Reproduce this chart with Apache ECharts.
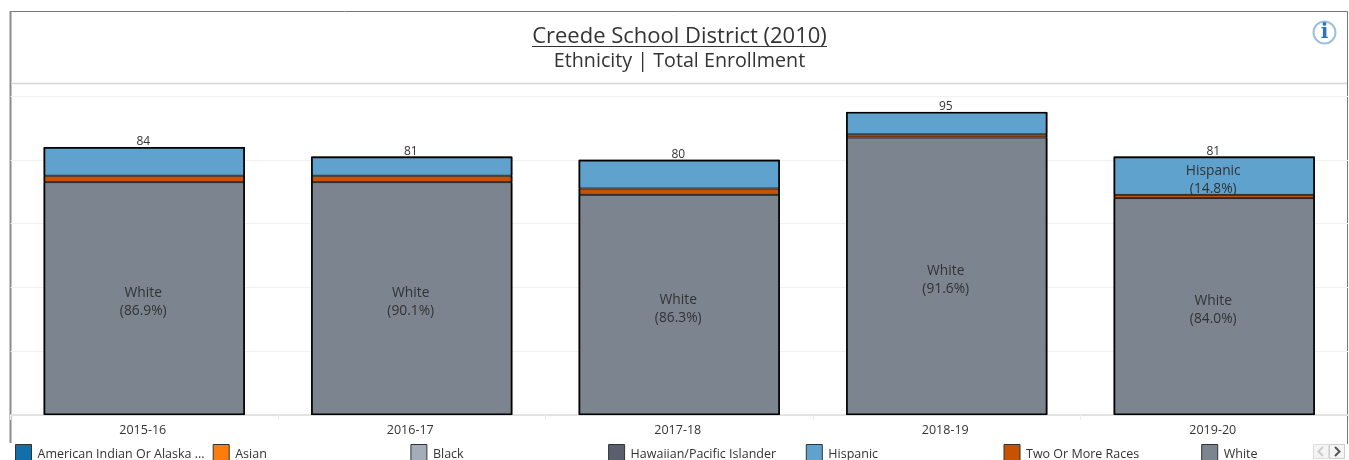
<!DOCTYPE html>
<html>
<head>
<meta charset="utf-8">
<style>html,body{margin:0;padding:0;background:#fff}#chart{width:1349px;height:460px}</style>
<script src="https://cdn.jsdelivr.net/npm/echarts@6/dist/echarts.min.js"></script>
</head>
<body>
<div id="chart"></div>
<script>
// Enrollment counts by school year
const years = ['2015-16', '2016-17', '2017-18', '2018-19', '2019-20'];
const white = [73, 73, 69, 87, 68];
const twoOrMore = [2, 2, 2, 1, 1];
const hispanic = [9, 6, 9, 7, 12];
const totals = [84, 81, 80, 95, 81];
const noStudents = [null, null, null, null, null];
const yTicks = { min: 0, max: 100, step: 20 };

const legendNames = ['American Indian Or Alaska ...', 'Asian', 'Black', 'Hawaiian/Pacific Islander', 'Hispanic', 'Two Or More Races', 'White'];
const swatches = ['#1170aa', '#fc7d0b', '#a3acb9', '#57606c', '#5fa2ce', '#c85200', '#7b848f'];

const FONT = '"Open Sans", "Noto Sans", sans-serif';
const INK = '#333';
const BAR_WIDTH = '75.2%';
const LEGEND_LEFT = 15;
const LEGEND_PITCH = 197.7;

function percent(values, i) {
  return (values[i] / totals[i] * 100).toFixed(1) + '%';
}

function segment(name, data, color, label) {
  return {
    name, type: 'bar', stack: 'enrollment', data,
    barWidth: BAR_WIDTH,
    itemStyle: { color, borderColor: '#1a1a1a', borderWidth: 0.9 },
    label: label || { show: false }
  };
}

const stackOrder = [
  segment('White', white, swatches[6], {
    show: true, position: 'inside', color: INK, fontFamily: FONT, fontSize: 13.8, lineHeight: 18, offset: [-1, 4],
    formatter: p => 'White\n(' + percent(white, p.dataIndex) + ')'
  }),
  segment('Two Or More Races', twoOrMore, swatches[5]),
  segment('Hispanic', hispanic, swatches[4], {
    show: true, position: 'inside', color: INK, fontFamily: FONT, fontSize: 13.8, lineHeight: 18, offset: [-1, 4],
    // only segments tall enough to hold two lines carry a label
    formatter: p => p.value >= 12 ? 'Hispanic\n(' + percent(hispanic, p.dataIndex) + ')' : ''
  }),
  segment('Hawaiian/Pacific Islander', noStudents, swatches[3]),
  segment('Black', noStudents, swatches[2]),
  segment('Asian', noStudents, swatches[1]),
  segment('American Indian Or Alaska ...', noStudents, swatches[0]),
  {
    name: 'Total', type: 'bar', data: totals, barGap: '-100%', barWidth: BAR_WIDTH, z: 3,
    itemStyle: { color: 'rgba(0,0,0,0)', borderColor: '#000', borderWidth: 1.6 },
    label: { show: true, position: 'top', distance: -1, offset: [-1, 0], color: INK, fontFamily: FONT, fontSize: 12 }
  }
];

// One legend per entry keeps the fixed column spacing of the key row
const legends = legendNames.map((name, i) => ({
  data: [name], left: LEGEND_LEFT + i * LEGEND_PITCH, top: 444, padding: 0,
  itemWidth: 16, itemHeight: 16, selectedMode: false, icon: 'rect',
  itemStyle: { borderColor: '#333', borderWidth: 1 },
  formatter: n => '{a|' + n + '}',
  textStyle: {
    rich: { a: { color: INK, fontFamily: FONT, fontSize: 12.5, padding: [4, 0, 0, 1] } }
  }
}));

const chart = echarts.init(document.getElementById('chart'), null, { renderer: 'canvas' });
chart.setOption({
  animation: false,
  backgroundColor: '#fff',
  color: swatches,
  title: [
    { text: 'Creede School District (2010)', left: 679.5, top: 26, padding: 0, textAlign: 'center',
      textStyle: { fontFamily: FONT, fontWeight: 'normal', fontSize: 22, color: INK } },
    { text: 'Ethnicity | Total Enrollment', left: 679.5, top: 51, padding: 0, textAlign: 'center',
      textStyle: { fontFamily: FONT, fontWeight: 'normal', fontSize: 19.7, color: INK } }
  ],
  grid: { left: 10.5, top: 96, width: 1337.5, height: 319 },
  xAxis: {
    type: 'category', data: years,
    axisLine: { lineStyle: { color: '#ddd', width: 1.5 } },
    axisTick: { show: true, length: 5, lineStyle: { color: '#eee' } },
    axisLabel: { color: INK, fontFamily: FONT, fontSize: 12.5, margin: 9, padding: [0, 3, 0, 0] }
  },
  yAxis: {
    type: 'value', min: yTicks.min, max: yTicks.max, interval: yTicks.step,
    axisLine: { show: false }, axisTick: { show: false }, axisLabel: { show: false },
    splitLine: { lineStyle: { color: '#f1f1f1', width: 1 } }
  },
  legend: legends,
  series: stackOrder,
  graphic: [
    // panel frame and header divider
    { type: 'polyline', silent: true, shape: { points: [[1347.5, 444], [1347.5, 11.5], [10, 11.5]] },
      style: { fill: null, stroke: '#777', lineWidth: 1 } },
    { type: 'line', silent: true, shape: { x1: 10.5, y1: 11, x2: 10.5, y2: 443 }, style: { stroke: '#8c8c8c', lineWidth: 2 } },
    { type: 'line', silent: true, shape: { x1: 11, y1: 83.5, x2: 1347, y2: 83.5 }, style: { stroke: '#d8d8d8', lineWidth: 1.5 } },
    // title underline
    { type: 'line', silent: true, shape: { x1: 532, y1: 46.5, x2: 827, y2: 46.5 }, style: { stroke: '#333', lineWidth: 1 } },
    // info badge
    { type: 'circle', silent: true, shape: { cx: 1324.5, cy: 32.5, r: 11 }, style: { fill: '#fff', stroke: '#9dbfe0', lineWidth: 2 } },
    { type: 'text', silent: true, x: 1324.5, y: 32.5, style: { text: 'i', fill: '#2f74b5', fontFamily: 'DejaVu Serif', fontWeight: 'bold', fontSize: 20, align: 'center', verticalAlign: 'middle' } },
    // legend pager buttons
    { type: 'rect', silent: true, shape: { x: 1313.5, y: 444.5, width: 15, height: 14 }, style: { fill: '#f4f4f4', stroke: '#ddd' } },
    { type: 'rect', silent: true, shape: { x: 1329.5, y: 444.5, width: 15, height: 14 }, style: { fill: '#f4f4f4', stroke: '#ccc' } },
    { type: 'polyline', silent: true, shape: { points: [[1323, 447], [1318.5, 451.5], [1323, 456]] }, style: { fill: null, stroke: '#ccc', lineWidth: 2 } },
    { type: 'polyline', silent: true, shape: { points: [[1335, 447], [1339.5, 451.5], [1335, 456]] }, style: { fill: null, stroke: '#555', lineWidth: 2 } }
  ]
});
</script>
</body>
</html>
